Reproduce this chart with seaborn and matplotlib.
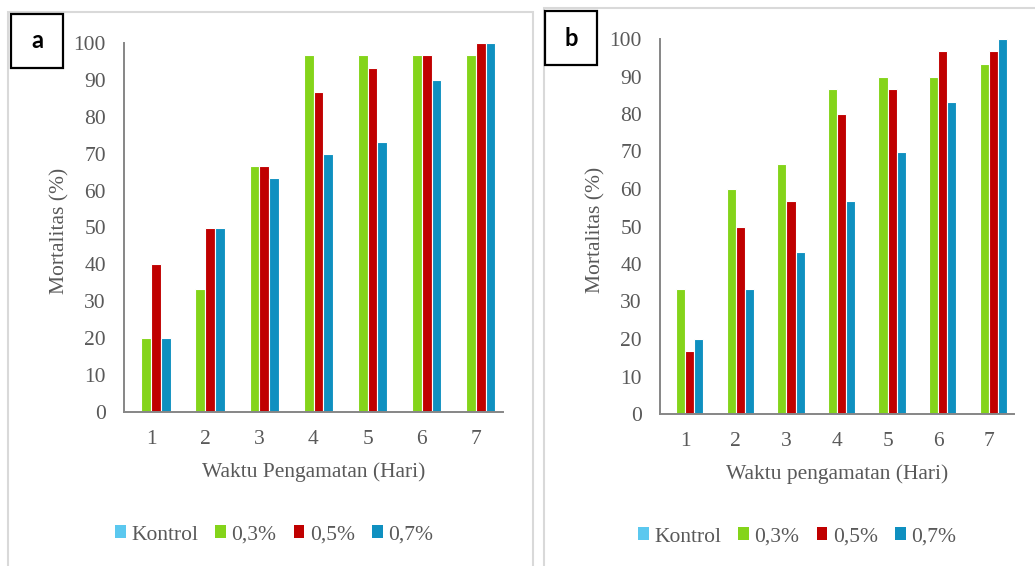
import matplotlib

matplotlib.use("Agg")
import matplotlib.pyplot as plt
import pandas as pd
import seaborn as sns
from matplotlib.patches import Patch, Rectangle

DAYS = ["1", "2", "3", "4", "5", "6", "7"]
TREATMENTS = ["Kontrol", "0,3%", "0,5%", "0,7%"]

# panel a
A_KONTROL = [0, 0, 0, 0, 0, 0, 0]
A_03 = [20, 33.3, 66.7, 96.7, 96.7, 96.7, 96.7]
A_05 = [40, 50, 66.7, 86.7, 93.3, 96.7, 100]
A_07 = [20, 50, 63.3, 70, 73.3, 90, 100]

# panel b
B_KONTROL = [0, 0, 0, 0, 0, 0, 0]
B_03 = [33.3, 60, 66.7, 86.7, 90, 90, 93.3]
B_05 = [16.7, 50, 56.7, 80, 86.7, 96.7, 96.7]
B_07 = [20, 33.3, 43.3, 56.7, 70, 83.3, 100]

Y_TICKS = [0, 10, 20, 30, 40, 50, 60, 70, 80, 90, 100]

PALETTE = {"Kontrol": "#5BC8EF", "0,3%": "#84D41A", "0,5%": "#C00000", "0,7%": "#0F90C0"}
TEXT_GRAY = "#595959"
SPINE_GRAY = "#868686"
FRAME_GRAY = "#D9D9D9"
SERIF = "Liberation Serif"
FS = 15.5


def long_frame(kontrol, c03, c05, c07):
    rows = []
    for name, vals in zip(TREATMENTS, [kontrol, c03, c05, c07]):
        for day, v in zip(DAYS, vals):
            rows.append({"day": day, "treatment": name, "mortalitas": v})
    return pd.DataFrame(rows)


def draw_panel(fig, rect, df, xlabel, letter, box_px, legend_xy, ylabel_x):
    ax = fig.add_axes(rect)
    sns.barplot(data=df, x="day", y="mortalitas", hue="treatment", hue_order=TREATMENTS,
                palette=PALETTE, saturation=1, width=0.72, edgecolor="white", linewidth=0.8,
                legend=False, ax=ax)
    ax.set_ylim(0, 100)
    ax.set_xlim(-0.5, 6.5)
    ax.set_yticks(Y_TICKS)
    ax.tick_params(axis="both", length=0, labelsize=FS, labelcolor=TEXT_GRAY, pad=13)
    for lab in ax.get_xticklabels() + ax.get_yticklabels():
        lab.set_fontfamily(SERIF)
    for side in ["top", "right"]:
        ax.spines[side].set_visible(False)
    for side in ["left", "bottom"]:
        ax.spines[side].set_color(SPINE_GRAY)
        ax.spines[side].set_linewidth(1.4)
    ax.set_facecolor("white")
    ax.set_xlabel(xlabel, fontsize=FS, color=TEXT_GRAY, fontfamily=SERIF)
    ax.set_ylabel("Mortalitas (%)", fontsize=FS, color=TEXT_GRAY, fontfamily=SERIF)
    ax.xaxis.set_label_coords(0.5, -0.135)
    ax.yaxis.set_label_coords(ylabel_x, 0.49)

    handles = [Patch(facecolor=PALETTE[t], edgecolor="none", label=t) for t in TREATMENTS]
    fig.legend(handles=handles, loc="center", bbox_to_anchor=legend_xy, ncol=4,
               frameon=False, handlelength=0.5, handleheight=0.55, handletextpad=0.25,
               columnspacing=0.8, prop={"family": SERIF, "size": FS},
               labelcolor=TEXT_GRAY)

    W, H = fig.get_size_inches() * fig.dpi
    x0, y0, x1, y1 = box_px
    fig.patches.append(Rectangle((x0 / W, 1 - y1 / H), (x1 - x0) / W, (y1 - y0) / H,
                                 transform=fig.transFigure, facecolor="white",
                                 edgecolor="black", linewidth=1.6, zorder=5))
    fig.text((x0 + x1) / 2 / W, 1 - (y0 + y1) / 2 / H, letter, ha="center", va="center",
             fontsize=17, fontweight="bold", fontfamily="Lato", color="black", zorder=6)
    return ax


def main():
    sns.set_theme(style="white")
    fig = plt.figure(figsize=(10.35, 5.66), dpi=100)
    W, H = 1035, 566

    # light panel frames
    for (x0, y0, x1, y1) in [(8, 12, 533, 570), (544, 8, 1040, 570)]:
        fig.patches.append(Rectangle((x0 / W, 1 - y1 / H), (x1 - x0) / W, (y1 - y0) / H,
                                     transform=fig.transFigure, facecolor="none",
                                     edgecolor=FRAME_GRAY, linewidth=1.5, zorder=0))

    df_a = long_frame(A_KONTROL, A_03, A_05, A_07)
    df_b = long_frame(B_KONTROL, B_03, B_05, B_07)

    rect_a = [124 / W, (H - 412) / H, (503 - 124) / W, (412 - 43) / H]
    rect_b = [660 / W, (H - 414) / H, (1014 - 660) / W, (414 - 39) / H]

    draw_panel(fig, rect_a, df_a, "Waktu Pengamatan (Hari)", "a", (11, 14, 63, 68),
               (274 / W, (H - 535) / H), -0.145)
    draw_panel(fig, rect_b, df_b, "Waktu pengamatan (Hari)", "b", (545, 11, 597, 65),
               (797 / W, (H - 537) / H), -0.153)

    fig.savefig("out.png", dpi=100)
    plt.close(fig)


if __name__ == "__main__":
    main()
